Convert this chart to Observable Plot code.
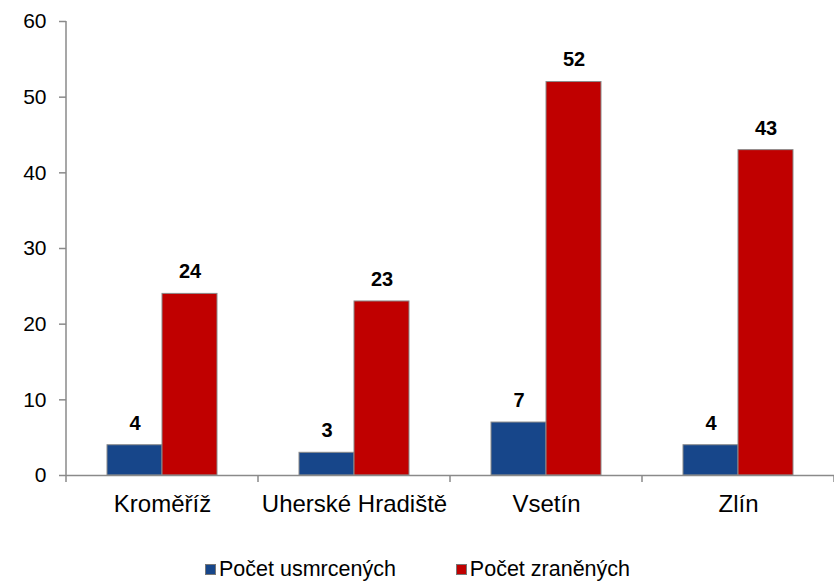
<!DOCTYPE html>
<html><head><meta charset="utf-8">
<script src="https://cdn.jsdelivr.net/npm/d3@7"></script>
<script src="https://cdn.jsdelivr.net/npm/@observablehq/plot@0.6"></script>
<style>
body{margin:0;background:#fff;font-family:"Liberation Sans",Arial,sans-serif}
#chart svg{display:block}
#legend{display:flex;align-items:center;height:53px;padding-left:205px;box-sizing:border-box;font-size:21.5px;color:#000;padding-top:26px}
#legend .item{display:flex;align-items:center;margin-right:60px}
#legend .sw{width:11px;height:11px;margin-right:3px;border:1px solid #777;box-sizing:border-box}
</style>
</head><body>
<div id="chart"></div>
<div id="legend"></div>
<script>
const categories = ["Kroměříž", "Uherské Hradiště", "Vsetín", "Zlín"];
const series = ["Počet usmrcených", "Počet zraněných"];
const killed = [4, 3, 7, 4];
const injured = [24, 23, 52, 43];
const yTicks = [0, 10, 20, 30, 40, 50, 60];
const colors = ["#17468A", "#C00000"];

const data = categories.flatMap((c, i) => [
  {category: c, series: series[0], value: killed[i]},
  {category: c, series: series[1], value: injured[i]}
]);

const axisGray = "#8a8a8a";
const hasAxisMarks = typeof Plot.axisY === "function";

const marks = [
  Plot.barY(data, {fx: "category", x: "series", y: "value", fill: "series", stroke: axisGray, strokeWidth: 1}),
  Plot.ruleY([0], {stroke: axisGray, strokeWidth: 1.5}),
  Plot.text(data, {fx: "category", x: "series", y: "value", text: "value", dy: -22, fontWeight: "bold", fontSize: 20})
];
if (hasAxisMarks) {
  marks.push(
    Plot.axisY({anchor: "left", ticks: yTicks, tickSize: 7, tickPadding: 13, stroke: axisGray, strokeWidth: 1.5, fill: "#000", fontSize: 21, label: null}),
    Plot.axisFx({anchor: "bottom", tickSize: 0, tickPadding: 19, fontSize: 24, fill: "#000", label: null})
  );
}

const chart = Plot.plot({
  width: 834, height: 530,
  marginTop: 21, marginBottom: 55, marginLeft: 66, marginRight: 0,
  style: {fontFamily: "Liberation Sans, Arial, sans-serif", fontSize: "21px", color: "#000", background: "#fff", overflow: "visible"},
  fx: {domain: categories, paddingInner: 0, paddingOuter: 0, label: null, axis: hasAxisMarks ? null : "bottom", tickSize: 0, tickPadding: 19},
  x: {domain: series, paddingInner: 0, paddingOuter: 0.74, axis: null},
  y: {domain: [0, 60], ticks: yTicks, tickSize: 7, tickPadding: 13, label: null, axis: hasAxisMarks ? null : "left"},
  color: {domain: series, range: colors},
  marks
});
document.getElementById("chart").appendChild(chart);

const svg = d3.select(chart);
if (!hasAxisMarks) {
  svg.selectAll('g[aria-label^="fx-axis"] text').attr("font-size", 24).style("font-size", "24px");
  svg.selectAll('g[aria-label^="y-axis"] line, g[aria-label^="y-axis"] path').attr("stroke", axisGray).attr("stroke-width", 1.5);
}

// y axis line and boundary ticks under the category axis, from the plot's scales
const fx = chart.scale("fx");
const y = chart.scale("y");
const y0 = y.apply(0);
const yTop = y.apply(yTicks[yTicks.length - 1]);
const xLeft = fx.apply(categories[0]);
const bounds = categories.map(c => fx.apply(c)).concat([fx.apply(categories[categories.length - 1]) + fx.step]);
const g = svg.append("g");
g.append("line").attr("x1", xLeft).attr("x2", xLeft).attr("y1", yTop).attr("y2", y0)
  .attr("stroke", axisGray).attr("stroke-width", 1.5);
g.selectAll("line.b").data(bounds).join("line").attr("class", "b")
  .attr("x1", d => d).attr("x2", d => d).attr("y1", y0).attr("y2", y0 + 7)
  .attr("stroke", axisGray).attr("stroke-width", 1.5);

// legend
const legend = d3.select("#legend");
series.forEach((s, i) => {
  const it = legend.append("div").attr("class", "item");
  it.append("div").attr("class", "sw").style("background", colors[i]);
  it.append("span").text(s);
});
</script>
</body></html>
